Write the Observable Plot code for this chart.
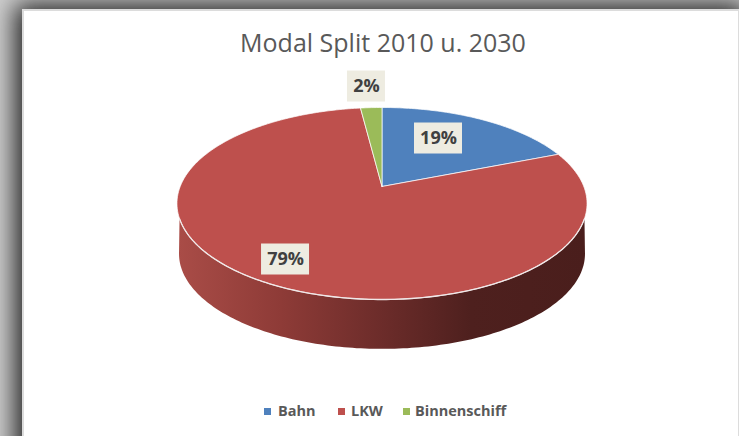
<!DOCTYPE html>
<html>
<head>
<meta charset="utf-8">
<script src="https://cdn.jsdelivr.net/npm/d3@7"></script>
<script src="https://cdn.jsdelivr.net/npm/@observablehq/plot@0.6"></script>
<style>
html,body{margin:0;padding:0;background:#d0d0d0;overflow:hidden}
#page{position:relative;width:739px;height:436px;overflow:hidden;font-family:"Open Sans",sans-serif}
#card{position:absolute;left:22px;top:9px;width:714px;height:460px;background:#fff;border:2px solid #dcdcdc;border-right-width:1px;box-shadow:0 2px 24px 7px #222}
#chart{position:absolute;left:0;top:0}
#chart svg{background:transparent;display:block}
#title{position:absolute;left:0;width:766px;top:25px;text-align:center;font-size:25px;color:#595959;white-space:nowrap}
.lg{position:absolute;top:402px;font-size:14.5px;font-weight:700;color:#595959;white-space:nowrap;line-height:18px}
.sw{position:absolute;top:408px;width:7px;height:7px}
</style>
</head>
<body>
<div id="page">
  <div id="card"></div>
  <div id="chart"></div>
  <div id="title">Modal Split 2010 u. 2030</div>
</div>
<script>
// Data
const categories = ["Bahn", "LKW", "Binnenschiff"];
const shares = [19, 79, 2];
const colors = ["#4F81BD", "#BE504D", "#9BBB59"];

// Label anchors in disc units and legend placement
const labelX = [0.28, -0.478, -0.077];
const labelY = [0.516, -0.785, 1.075];
const legendSwatchLeft = [264, 338, 403];
const legendTextLeft = [278, 351, 415];

// Perspective of the tilted disc (pixel geometry of the frame)
const cx = 381.5, cy = 186, A = 201.8, B = 93, k = 0.177;
const depthPx = 50.5, lowerScale = 0.99;

const rad = d => d * Math.PI / 180;
function rim(deg, r = 1) {
  const u = r * Math.sin(rad(deg)), v = r * Math.cos(rad(deg)), w = 1 + k * v;
  return {x: u / w, y: v / w};
}
function lower(deg) {
  const p = rim(deg);
  return {x: p.x * lowerScale, y: p.y * lowerScale - depthPx / B};
}

// Wedges, from the shares
const total = d3.sum(shares);
let acc = 0;
const wedges = [];
categories.forEach((name, i) => {
  const a0 = acc / total * 360;
  acc += shares[i];
  const a1 = acc / total * 360;
  const n = Math.max(2, Math.ceil(a1 - a0));
  wedges.push({name, x: 0, y: 0});
  for (let j = 0; j <= n; j++) {
    wedges.push({name, ...rim(a0 + (a1 - a0) * j / n)});
  }
  wedges.push({name, x: 0, y: 0});
});

// Side wall: front arc of the upper rim, then lower rim back again
const side = [];
for (let a = 251; a >= 109; a--) side.push(rim(a));
for (let a = 100; a <= 260; a++) side.push(lower(a));
const frontRim = [];
for (let a = 109; a <= 251; a++) frontRim.push(rim(a));

const labels = categories.map((name, i) => ({
  text: shares[i] + "%",
  x: labelX[i],
  y: labelY[i],
  hw: (shares[i] >= 10 ? 24 : 19) / A,
  hh: 15.5 / B
}));

const defs = () => {
  const g = d3.create("svg:defs");
  const lg = g.append("linearGradient").attr("id", "sideGrad")
    .attr("x1", 0).attr("x2", 1).attr("y1", 0).attr("y2", 0);
  [[0, "#a94c47"], [0.25, "#8e3b37"], [0.5, "#6c2c2a"], [0.72, "#4e201e"], [1, "#4a1e1c"]]
    .forEach(([o, c]) => lg.append("stop").attr("offset", o).attr("stop-color", c));
  return g.node();
};

const chart = Plot.plot({
  width: 739,
  height: 436,
  margin: 0,
  x: {domain: [-1, 1], range: [cx - A, cx + A], axis: null},
  y: {domain: [-1, 1], range: [cy + B, cy - B], axis: null},
  color: {domain: categories, range: colors},
  marks: [
    defs,
    Plot.line(side, {x: "x", y: "y", fill: "url(#sideGrad)", stroke: "none"}),
    Plot.line(wedges, {x: "x", y: "y", z: "name", fill: "name", stroke: "#fff", strokeWidth: 0.8, strokeOpacity: 0.9}),
    Plot.line(frontRim, {x: "x", y: "y", stroke: "#f0e8e8", strokeWidth: 1.3}),
    Plot.rect(labels, {x1: d => d.x - d.hw, x2: d => d.x + d.hw, y1: d => d.y - d.hh, y2: d => d.y + d.hh, fill: "#EEECE1"}),
    Plot.text(labels, {x: "x", y: "y", text: "text", fontFamily: "Open Sans", fontWeight: 700, fontSize: 18, fill: "#404040"})
  ]
});
document.getElementById("chart").appendChild(chart);

const page = document.getElementById("page");
categories.forEach((name, i) => {
  const s = document.createElement("div");
  s.className = "sw";
  s.style.left = legendSwatchLeft[i] + "px";
  s.style.background = colors[i];
  page.appendChild(s);
  const t = document.createElement("div");
  t.className = "lg";
  t.style.left = legendTextLeft[i] + "px";
  t.textContent = name;
  page.appendChild(t);
});
</script>
</body>
</html>
